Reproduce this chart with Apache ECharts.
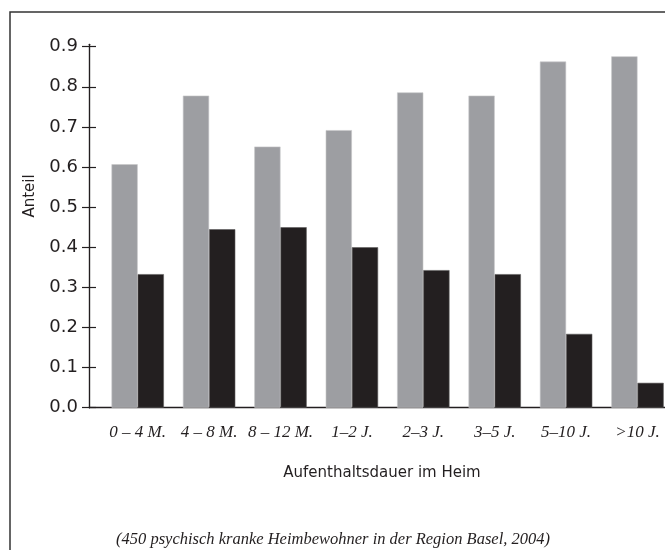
<!DOCTYPE html>
<html>
<head>
<meta charset="utf-8">
<script src="https://cdn.jsdelivr.net/npm/echarts@6/dist/echarts.min.js"></script>
<style>
html,body{margin:0;padding:0;background:#fff;}
#chart{width:665px;height:550px;}
</style>
</head>
<body>
<div id="chart"></div>
<script>
var categories = ['0 \u2013 4 M.', '4 \u2013 8 M.', '8 \u2013 12 M.', '1\u20132 J.', '2\u20133 J.', '3\u20135 J.', '5\u201310 J.', '>10 J.'];
var grayValues = [0.607, 0.778, 0.651, 0.692, 0.786, 0.778, 0.863, 0.876];
var blackValues = [0.333, 0.445, 0.450, 0.400, 0.343, 0.333, 0.184, 0.062];
var yTicks = [0, 0.1, 0.2, 0.3, 0.4, 0.5, 0.6, 0.7, 0.8, 0.9];
var yTitle = 'Anteil';
var xTitle = 'Aufenthaltsdauer im Heim';
var caption = '(450 psychisch kranke Heimbewohner in der Region Basel, 2004)';

var YMAX = 0.906;
var INK = '#231f20';
var sansFont = 'DejaVu Sans';
var serifFont = 'Liberation Serif';

var chart = echarts.init(document.getElementById('chart'), null, {renderer: 'canvas'});

var option = {
  backgroundColor: '#ffffff',
  animation: false,
  grid: [
    {left: 102, width: 571.2, top: 44.3, bottom: 142.3, containLabel: false, outerBoundsMode: 'none'},
    {left: 89, right: 0, top: 44.3, bottom: 142.3, containLabel: false, outerBoundsMode: 'none'}
  ],
  xAxis: [
    {
      type: 'category', gridIndex: 0, data: categories, boundaryGap: true,
      axisLine: {show: false}, axisTick: {show: false}, splitLine: {show: false},
      axisLabel: {
        interval: 0, margin: 16, color: INK,
        fontFamily: serifFont, fontStyle: 'italic', fontSize: 17
      }
    },
    {
      type: 'value', gridIndex: 1, min: 0, max: 1,
      axisLine: {show: true, lineStyle: {color: INK, width: 1.3}},
      axisTick: {show: false}, axisLabel: {show: false}, splitLine: {show: false}
    }
  ],
  yAxis: [
    {
      type: 'value', gridIndex: 0, min: 0, max: YMAX, show: false,
      splitLine: {show: false}
    },
    {
      type: 'value', gridIndex: 1, position: 'left', min: 0, max: YMAX, interval: 0.1,
      axisLine: {show: true, lineStyle: {color: INK, width: 1.2}},
      axisTick: {show: true, customValues: yTicks, length: 7, inside: false, lineStyle: {color: INK, width: 1.2}},
      axisLabel: {
        show: true, customValues: yTicks, margin: 11, color: INK,
        fontFamily: sansFont, fontSize: 18,
        formatter: function (v) { return v.toFixed(1); }
      },
      splitLine: {show: false}
    },
    {
      type: 'value', gridIndex: 1, position: 'left', offset: 0, min: 0, max: YMAX, interval: 0.1,
      axisLine: {show: true, lineStyle: {color: INK, width: 1.2}},
      axisTick: {show: true, customValues: yTicks, length: 7, inside: true, lineStyle: {color: INK, width: 1.2}},
      axisLabel: {show: false},
      splitLine: {show: false}
    }
  ],
  series: [
    {
      type: 'bar', xAxisIndex: 0, yAxisIndex: 0, data: grayValues,
      barWidth: 26.2, barGap: '0%',
      itemStyle: {color: '#9d9ea2', borderColor: '#c6c6c8', borderWidth: 0.6}
    },
    {
      type: 'bar', xAxisIndex: 0, yAxisIndex: 0, data: blackValues,
      barWidth: 26.2, barGap: '0%',
      itemStyle: {color: INK, borderColor: '#5e5c5d', borderWidth: 0.6}
    }
  ],
  graphic: [
    {
      type: 'rect', z: -1, silent: true,
      shape: {x: 10, y: 12, width: 720, height: 620},
      style: {fill: 'none', stroke: '#333333', lineWidth: 1.5}
    },
    {
      type: 'text', x: 30, y: 196, rotation: Math.PI / 2,
      style: {text: yTitle, fill: INK, font: '15px "DejaVu Sans"', textAlign: 'center', textVerticalAlign: 'middle'}
    },
    {
      type: 'text', x: 382, y: 473,
      style: {text: xTitle, fill: INK, font: '15px "DejaVu Sans"', textAlign: 'center', textVerticalAlign: 'middle'}
    },
    {
      type: 'text', x: 333, y: 540,
      style: {text: caption, fill: INK, font: 'italic 16.5px "Liberation Serif"', textAlign: 'center', textVerticalAlign: 'middle'}
    }
  ]
};

chart.setOption(option);
</script>
</body>
</html>
